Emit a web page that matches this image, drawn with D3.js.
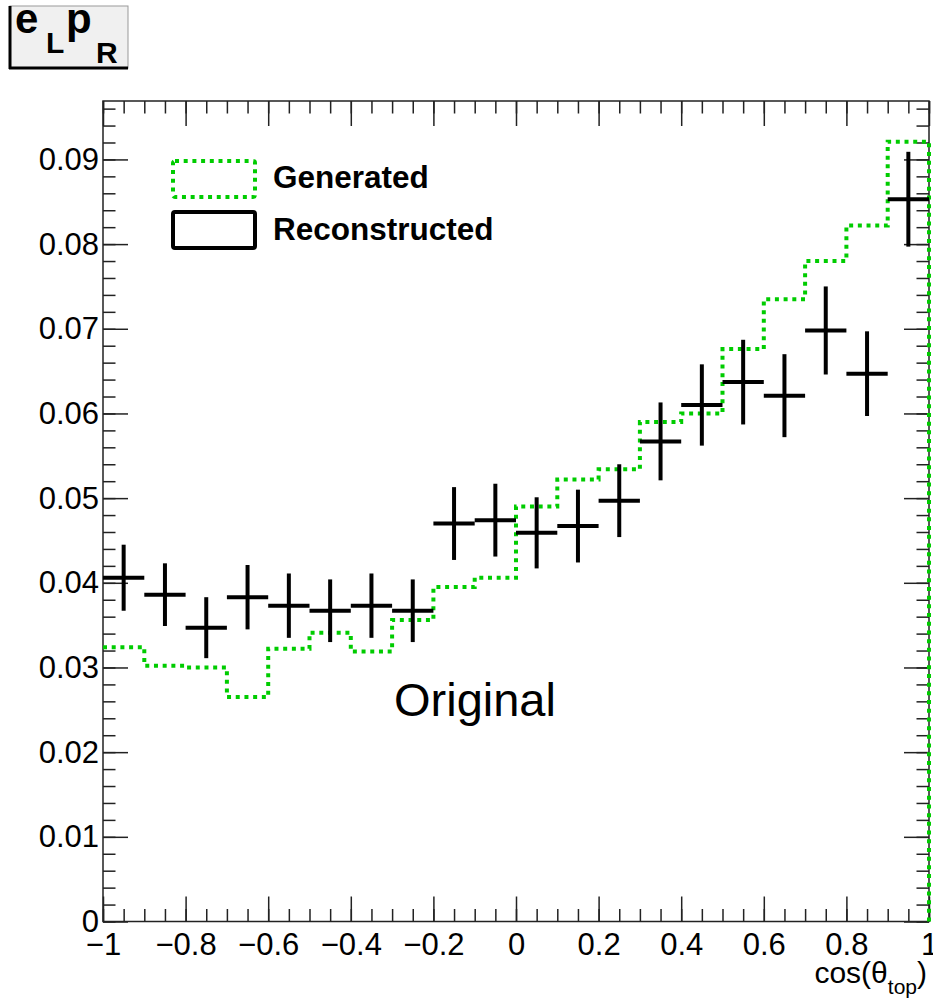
<!DOCTYPE html>
<html>
<head>
<meta charset="utf-8">
<script src="https://cdn.jsdelivr.net/npm/d3@7"></script>
<style>
  body { margin: 0; background: #fff; }
  svg text { font-family: "Liberation Sans", Arial, sans-serif; fill: #000; }
</style>
</head>
<body>
<div id="chart"></div>
<script>
//----------------------------
// Data
//----------------------------
// bin edges of cos(theta_top), 20 bins
var binEdges = [-1, -0.9, -0.8, -0.7, -0.6, -0.5, -0.4, -0.3, -0.2, -0.1, 0,
                0.1, 0.2, 0.3, 0.4, 0.5, 0.6, 0.7, 0.8, 0.9, 1];

// generated distribution (green dotted histogram)
var generated = [0.0324, 0.0302, 0.0300, 0.0265, 0.0322, 0.0341, 0.0319, 0.0356, 0.0395, 0.0406,
                 0.0490, 0.0522, 0.0534, 0.0590, 0.0600, 0.0676, 0.0735, 0.0780, 0.0822, 0.0921];

// reconstructed distribution (black crosses) and its errors
var reconstructed = [0.0406, 0.0386, 0.0347, 0.0383, 0.0373, 0.0367, 0.0373, 0.0367, 0.0470, 0.0474,
                     0.0459, 0.0467, 0.0497, 0.0567, 0.0610, 0.0637, 0.0621, 0.0698, 0.0647, 0.0853];
var recoErrors = [0.0039, 0.0037, 0.0036, 0.0038, 0.0038, 0.0037, 0.0038, 0.0037, 0.0043, 0.0043,
                  0.0042, 0.0043, 0.0043, 0.0046, 0.0048, 0.0050, 0.0049, 0.0052, 0.0050, 0.0056];

// axis ticks
var xMajorTicks = [-1, -0.8, -0.6, -0.4, -0.2, 0, 0.2, 0.4, 0.6, 0.8, 1];
var yMajorTicks = [0, 0.01, 0.02, 0.03, 0.04, 0.05, 0.06, 0.07, 0.08, 0.09];
var xDomain = [-1, 1];
var yDomain = [0, 0.0969];

var legendLabels = ["Generated", "Reconstructed"];

//----------------------------
// Layout
//----------------------------
var W = 933, H = 998;
var frame = {left: 103, right: 929, top: 101, bottom: 921.5};
var green = "#00cc00";
var majorLen = 25, minorLen = 12.5;

var svg = d3.select("#chart")
    .append("svg")
    .attr("width", W)
    .attr("height", H);

var x = d3.scaleLinear().domain(xDomain).range([frame.left, frame.right]);
var y = d3.scaleLinear().domain(yDomain).range([frame.bottom, frame.top]);

// tick label format, ROOT style minus sign
function fmt(d) {
    var v = +d.toFixed(3);
    if (v === 0) return "0";
    return String(v).replace("-", "\u2212");
}

var xMinorTicks = d3.range(0, 41).map(i => +(xDomain[0] + i * 0.05).toFixed(3));
var yMinorTicks = d3.range(0, 49).map(i => +(i * 0.002).toFixed(3));

//----------------------------
// Frame and axes
//----------------------------
svg.append("rect")
    .attr("x", frame.left)
    .attr("y", frame.top)
    .attr("width", frame.right - frame.left)
    .attr("height", frame.bottom - frame.top)
    .attr("fill", "none")
    .attr("stroke", "#222")
    .attr("stroke-width", 1.5);

function styleAxis(g) {
    g.select(".domain").remove();
    g.selectAll(".tick line").attr("stroke", "#222").attr("stroke-width", 1.5);
    g.selectAll("text").style("font-size", "31px").attr("fill", "#000");
}

// bottom
svg.append("g")
    .attr("transform", "translate(0," + frame.bottom + ")")
    .call(d3.axisBottom(x).tickValues(xMinorTicks).tickSize(-minorLen).tickFormat(""))
    .call(styleAxis);
svg.append("g")
    .attr("transform", "translate(0," + frame.bottom + ")")
    .call(d3.axisBottom(x).tickValues(xMajorTicks).tickSize(-majorLen).tickPadding(11).tickFormat(fmt))
    .call(styleAxis);

// top (mirror)
svg.append("g")
    .attr("transform", "translate(0," + frame.top + ")")
    .call(d3.axisTop(x).tickValues(xMinorTicks).tickSize(-minorLen).tickFormat(""))
    .call(styleAxis);
svg.append("g")
    .attr("transform", "translate(0," + frame.top + ")")
    .call(d3.axisTop(x).tickValues(xMajorTicks).tickSize(-majorLen).tickFormat(""))
    .call(styleAxis);

// left
svg.append("g")
    .attr("transform", "translate(" + frame.left + ",0)")
    .call(d3.axisLeft(y).tickValues(yMinorTicks).tickSize(-minorLen).tickFormat(""))
    .call(styleAxis);
svg.append("g")
    .attr("transform", "translate(" + frame.left + ",0)")
    .call(d3.axisLeft(y).tickValues(yMajorTicks).tickSize(-majorLen).tickPadding(4).tickFormat(fmt))
    .call(styleAxis);

// right (mirror)
svg.append("g")
    .attr("transform", "translate(" + frame.right + ",0)")
    .call(d3.axisRight(y).tickValues(yMinorTicks).tickSize(-minorLen).tickFormat(""))
    .call(styleAxis);
svg.append("g")
    .attr("transform", "translate(" + frame.right + ",0)")
    .call(d3.axisRight(y).tickValues(yMajorTicks).tickSize(-majorLen).tickFormat(""))
    .call(styleAxis);

//----------------------------
// Generated histogram (dotted step outline)
//----------------------------
var histPoints = [];
generated.forEach(function (v, i) {
    histPoints.push([binEdges[i], v]);
    histPoints.push([binEdges[i + 1], v]);
});
histPoints.push([binEdges[binEdges.length - 1], 0]);

svg.append("path")
    .datum(histPoints)
    .attr("d", d3.line().x(d => x(d[0])).y(d => y(d[1])))
    .attr("fill", "none")
    .attr("stroke", green)
    .attr("stroke-width", 4)
    .attr("stroke-dasharray", "4,4.7");

//----------------------------
// Reconstructed points with errors
//----------------------------
var recoData = reconstructed.map(function (v, i) {
    return {lo: binEdges[i], hi: binEdges[i + 1], v: v, e: recoErrors[i]};
});

var cross = svg.append("g").attr("class", "reco");
cross.selectAll(".hbar")
    .data(recoData)
    .enter().append("line")
    .attr("class", "hbar")
    .attr("x1", d => x(d.lo))
    .attr("x2", d => x(d.hi))
    .attr("y1", d => y(d.v))
    .attr("y2", d => y(d.v))
    .attr("stroke", "#000")
    .attr("stroke-width", 4);
cross.selectAll(".vbar")
    .data(recoData)
    .enter().append("line")
    .attr("class", "vbar")
    .attr("x1", d => x((d.lo + d.hi) / 2))
    .attr("x2", d => x((d.lo + d.hi) / 2))
    .attr("y1", d => y(d.v - d.e))
    .attr("y2", d => y(d.v + d.e))
    .attr("stroke", "#000")
    .attr("stroke-width", 4);

//----------------------------
// Legend
//----------------------------
var legend = svg.append("g").attr("class", "legend");
legend.append("rect")
    .attr("x", 173).attr("y", 161)
    .attr("width", 82).attr("height", 36)
    .attr("rx", 2)
    .attr("fill", "none")
    .attr("stroke", green)
    .attr("stroke-width", 4)
    .attr("stroke-dasharray", "4,4.7");
legend.append("rect")
    .attr("x", 173).attr("y", 212)
    .attr("width", 82).attr("height", 36)
    .attr("rx", 2)
    .attr("fill", "none")
    .attr("stroke", "#000")
    .attr("stroke-width", 4);
legend.selectAll("text")
    .data(legendLabels)
    .enter().append("text")
    .attr("x", 273)
    .attr("y", (d, i) => 188 + i * 52)
    .style("font-size", "31.5px")
    .style("font-weight", "bold")
    .text(d => d);

//----------------------------
// Axis title
//----------------------------
var xTitle = svg.append("text")
    .attr("x", 927)
    .attr("y", 983)
    .attr("text-anchor", "end")
    .style("font-size", "30px");
xTitle.append("tspan").text("cos(\u03b8");
xTitle.append("tspan").attr("dy", 11).style("font-size", "21px").text("top");
xTitle.append("tspan").attr("dy", -11).text(")");

//----------------------------
// "Original" label
//----------------------------
svg.append("text")
    .attr("x", 394)
    .attr("y", 716)
    .style("font-size", "47px")
    .text("Original");

//----------------------------
// Title pave  e_L p_R
//----------------------------
var pave = svg.append("g").attr("class", "pave");
pave.append("rect")
    .attr("x", 10).attr("y", 6)
    .attr("width", 118).attr("height", 62)
    .attr("fill", "#f0f0f0")
    .attr("stroke", "#999")
    .attr("stroke-width", 1);
pave.append("line")
    .attr("x1", 10).attr("x2", 10).attr("y1", 6).attr("y2", 69)
    .attr("stroke", "#000").attr("stroke-width", 3);
pave.append("line")
    .attr("x1", 9).attr("x2", 128).attr("y1", 68).attr("y2", 68)
    .attr("stroke", "#000").attr("stroke-width", 3);

var paveText = [
    {t: "e", x: 15, y: 33, s: 42},
    {t: "L", x: 46, y: 53, s: 30},
    {t: "p", x: 66, y: 33, s: 42},
    {t: "R", x: 96, y: 63, s: 30}
];
pave.selectAll("text")
    .data(paveText)
    .enter().append("text")
    .attr("x", d => d.x)
    .attr("y", d => d.y)
    .style("font-size", d => d.s + "px")
    .style("font-weight", "bold")
    .text(d => d.t);
</script>
</body>
</html>
